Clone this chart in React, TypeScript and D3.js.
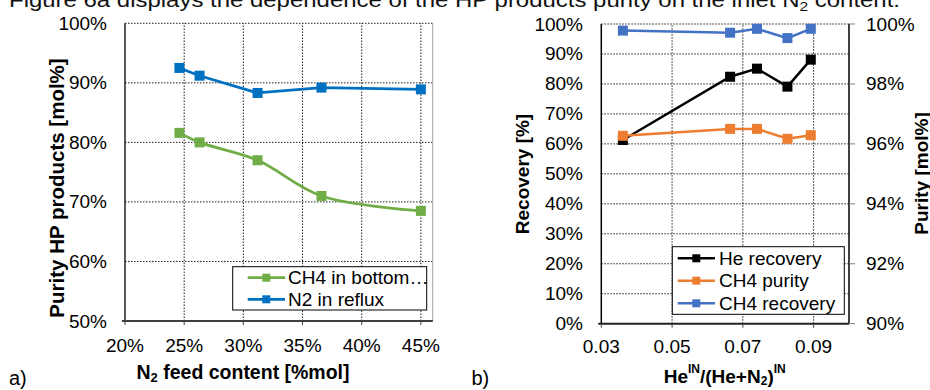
import React from "react";
import * as d3 from "d3";

// panel a) purity vs N2 feed content
const n2Feed = [0.246, 0.263, 0.312, 0.366, 0.45];
const ch4Bottom = [0.816, 0.8, 0.77, 0.71, 0.685];
const n2Reflux = [0.925, 0.912, 0.883, 0.892, 0.889];
const leftXTicks = [0.2, 0.25, 0.3, 0.35, 0.4, 0.45];
const leftYTicks = [0.5, 0.6, 0.7, 0.8, 0.9, 1.0];

// panel b) recovery / purity vs He ratio
const heRatio = [0.0361, 0.0664, 0.074, 0.0826, 0.0892];
const heRecovery = [0.613, 0.824, 0.851, 0.791, 0.881];
const ch4Purity = [0.9627, 0.965, 0.965, 0.9617, 0.9629];
const ch4Recovery = [0.978, 0.971, 0.984, 0.953, 0.984];
const rightXTicks = [0.03, 0.05, 0.07, 0.09];
const recoveryTicks = [0, 0.1, 0.2, 0.3, 0.4, 0.5, 0.6, 0.7, 0.8, 0.9, 1.0];
const purityTicks = [0.9, 0.92, 0.94, 0.96, 0.98, 1.0];

const FONT = "'Liberation Sans', Arial, sans-serif";
const GREEN = "#70AD47";
const BLUE_A = "#0070C0";
const ORANGE = "#ED7D31";
const BLUE_B = "#4472C4";

const pct = d3.format(".0%");
const dec = d3.format(".2f");

type Pt = [number, number];

const Marker = ({ x, y, color, size = 10 }: { x: number; y: number; color: string; size?: number }) => (
  <rect x={x - size / 2} y={y - size / 2} width={size} height={size} fill={color} />
);

export default function App() {
  // left panel scales
  const xA = d3.scaleLinear().domain([0.2, 0.46]).range([125, 432.7]);
  const yA = d3.scaleLinear().domain([0.5, 1]).range([321, 23.3]);
  // right panel scales
  const xB = d3.scaleLinear().domain([0.03, 0.1]).range([601.3, 849]);
  const yB = d3.scaleLinear().domain([0, 1]).range([323.7, 24]);
  const yB2 = d3.scaleLinear().domain([0.9, 1]).range([323.7, 24]);

  const smooth = d3.line<Pt>().curve(d3.curveCatmullRom);
  const straight = d3.line<Pt>();

  const greenPts: Pt[] = n2Feed.map((v, i) => [xA(v), yA(ch4Bottom[i])]);
  const bluePts: Pt[] = n2Feed.map((v, i) => [xA(v), yA(n2Reflux[i])]);
  const hePts: Pt[] = heRatio.map((v, i) => [xB(v), yB(heRecovery[i])]);
  const purPts: Pt[] = heRatio.map((v, i) => [xB(v), yB2(ch4Purity[i])]);
  const recPts: Pt[] = heRatio.map((v, i) => [xB(v), yB(ch4Recovery[i])]);

  const [ax0, ax1] = xA.range();
  const [ay0, ay1] = yA.range();
  const [bx0, bx1] = xB.range();
  const [by0, by1] = yB.range();

  const grid = { stroke: "#222", strokeWidth: 1, strokeDasharray: "1.5,1.5" };

  return (
    <svg
      width={930}
      height={390}
      style={{ position: "absolute", left: 0, top: 0, background: "#fff" }}
      fontFamily={FONT}
    >
      <rect width={930} height={390} fill="#fff" />
      <text x={9} y={7} fontSize={20} textLength={891} lengthAdjust="spacingAndGlyphs" fill="#111">
        Figure 6a displays the dependence of the HP products purity on the inlet N
        <tspan fontSize={13} dy={4}>2</tspan>
        <tspan dy={-4}> content.</tspan>
      </text>

      {/* ---------- panel a ---------- */}
      <g>
        {leftYTicks.map((t) => (
          <line key={"ga" + t} x1={ax0} x2={ax1} y1={yA(t)} y2={yA(t)} {...grid} />
        ))}
        {leftXTicks.slice(1).map((t) => (
          <line key={"gxa" + t} x1={xA(t)} x2={xA(t)} y1={ay0} y2={ay1} {...grid} />
        ))}
        <line x1={ax1} x2={ax1} y1={ay1} y2={ay0} stroke="#a6a6a6" strokeWidth={1} />
        <line x1={ax0} x2={ax0} y1={ay1} y2={ay0} stroke="#000" strokeWidth={1.3} />
        <line x1={ax0 - 3} x2={ax1} y1={ay0} y2={ay0} stroke="#404040" strokeWidth={2} />
        {leftXTicks.map((t) => (
          <line key={"ta" + t} x1={xA(t)} x2={xA(t)} y1={ay0} y2={ay0 + 4} stroke="#404040" strokeWidth={1} />
        ))}
        {leftYTicks.map((t) => (
          <text key={"ya" + t} x={107} y={yA(t)} fontSize={19} textAnchor="end" dominantBaseline="central">
            {pct(t)}
          </text>
        ))}
        {leftXTicks.map((t) => (
          <text key={"xa" + t} x={xA(t)} y={345} fontSize={19} textAnchor="middle" dominantBaseline="central">
            {pct(t)}
          </text>
        ))}
        <path d={smooth(greenPts) ?? ""} fill="none" stroke={GREEN} strokeWidth={2.75} />
        {greenPts.map(([x, y], i) => (
          <Marker key={"mg" + i} x={x} y={y} color={GREEN} />
        ))}
        <path d={straight(bluePts) ?? ""} fill="none" stroke={BLUE_A} strokeWidth={2.75} />
        {bluePts.map(([x, y], i) => (
          <Marker key={"mb" + i} x={x} y={y} color={BLUE_A} />
        ))}

        {/* legend */}
        <rect x={232.7} y={266.7} width={194} height={43.3} fill="#fff" stroke="#000" strokeWidth={1} />
        <line x1={247.7} x2={285} y1={277.7} y2={277.7} stroke={GREEN} strokeWidth={2.75} />
        <Marker x={266.3} y={277.7} color={GREEN} size={8} />
        <text x={288} y={277.7} fontSize={19} dominantBaseline="central">CH4 in bottom…</text>
        <line x1={247.7} x2={285} y1={299.3} y2={299.3} stroke={BLUE_A} strokeWidth={2.75} />
        <Marker x={266.3} y={299.3} color={BLUE_A} size={8} />
        <text x={288} y={299.3} fontSize={19} dominantBaseline="central">N2 in reflux</text>

        <text
          transform="translate(56.7,188) rotate(-90)"
          fontSize={20.5}
          fontWeight="bold"
          textAnchor="middle"
          dominantBaseline="central"
        >
          Purity HP products [mol%]
        </text>
        <text x={243} y={372} fontSize={19.5} fontWeight="bold" textAnchor="middle" dominantBaseline="central">
          N<tspan fontSize={13} dy={5}>2</tspan>
          <tspan dy={-5}> feed content [%mol]</tspan>
        </text>
        <text x={9} y={378} fontSize={20} dominantBaseline="central">a)</text>
      </g>

      {/* ---------- panel b ---------- */}
      <g>
        {recoveryTicks.slice(1).map((t) => (
          <line key={"gb" + t} x1={bx0} x2={bx1} y1={yB(t)} y2={yB(t)} {...grid} />
        ))}
        {rightXTicks.slice(1).map((t) => (
          <line key={"gxb" + t} x1={xB(t)} x2={xB(t)} y1={by0} y2={by1} {...grid} />
        ))}
        <line x1={bx0} x2={bx0} y1={by1} y2={by0} stroke="#000" strokeWidth={1.5} />
        <line x1={bx1} x2={bx1} y1={by1} y2={by0} stroke="#000" strokeWidth={1.5} />
        {purityTicks.map((t) => (
          <line key={"tr" + t} x1={bx1} x2={bx1 + 6} y1={yB2(t)} y2={yB2(t)} stroke="#808080" strokeWidth={1} />
        ))}
        <line x1={bx0 - 3} x2={bx1} y1={by0} y2={by0} stroke="#222" strokeWidth={2} />
        {rightXTicks.map((t) => (
          <line key={"tb" + t} x1={xB(t)} x2={xB(t)} y1={by0} y2={by0 + 4} stroke="#404040" strokeWidth={1} />
        ))}
        {recoveryTicks.map((t) => (
          <text key={"yb" + t} x={583} y={yB(t)} fontSize={19} textAnchor="end" dominantBaseline="central">
            {pct(t)}
          </text>
        ))}
        {purityTicks.map((t) => (
          <text key={"yb2" + t} x={866} y={yB2(t)} fontSize={19} dominantBaseline="central">
            {pct(t)}
          </text>
        ))}
        {rightXTicks.map((t) => (
          <text key={"xb" + t} x={xB(t)} y={346.7} fontSize={19} textAnchor="middle" dominantBaseline="central">
            {dec(t)}
          </text>
        ))}

        <path d={straight(hePts) ?? ""} fill="none" stroke="#000" strokeWidth={2.5} />
        {hePts.map(([x, y], i) => (
          <Marker key={"mh" + i} x={x} y={y} color="#000" />
        ))}
        <path d={straight(purPts) ?? ""} fill="none" stroke={ORANGE} strokeWidth={2.5} />
        {purPts.map(([x, y], i) => (
          <Marker key={"mp" + i} x={x} y={y} color={ORANGE} />
        ))}
        <path d={straight(recPts) ?? ""} fill="none" stroke={BLUE_B} strokeWidth={2.5} />
        {recPts.map(([x, y], i) => (
          <Marker key={"mr" + i} x={x} y={y} color={BLUE_B} />
        ))}

        {/* legend */}
        <rect x={672.3} y={246.7} width={172} height={67.6} fill="#fff" stroke="#000" strokeWidth={1} />
        {[
          { label: "He recovery", color: "#000", y: 258.3 },
          { label: "CH4 purity", color: ORANGE, y: 280.7 },
          { label: "CH4 recovery", color: BLUE_B, y: 303.3 },
        ].map((d) => (
          <g key={d.label}>
            <line x1={677.7} x2={715} y1={d.y} y2={d.y} stroke={d.color} strokeWidth={2.5} />
            <Marker x={696.3} y={d.y} color={d.color} size={8} />
            <text x={719} y={d.y} fontSize={19} dominantBaseline="central">
              {d.label}
            </text>
          </g>
        ))}

        <text
          transform="translate(522,174) rotate(-90)"
          fontSize={19}
          fontWeight="bold"
          textAnchor="middle"
          dominantBaseline="central"
        >
          Recovery [%]
        </text>
        <text
          transform="translate(921.5,173.5) rotate(-90)"
          fontSize={19}
          fontWeight="bold"
          textAnchor="middle"
          dominantBaseline="central"
        >
          Purity [mol%]
        </text>
        <text x={724.7} y={376} fontSize={19} fontWeight="bold" textAnchor="middle" dominantBaseline="central">
          He<tspan fontSize={12} dy={-7}>IN</tspan>
          <tspan dy={7}>/(He+N</tspan>
          <tspan fontSize={12} dy={5}>2</tspan>
          <tspan dy={-5}>)</tspan>
          <tspan fontSize={12} dy={-7}>IN</tspan>
        </text>
        <text x={471.5} y={378} fontSize={20} dominantBaseline="central">b)</text>
      </g>
    </svg>
  );
}
